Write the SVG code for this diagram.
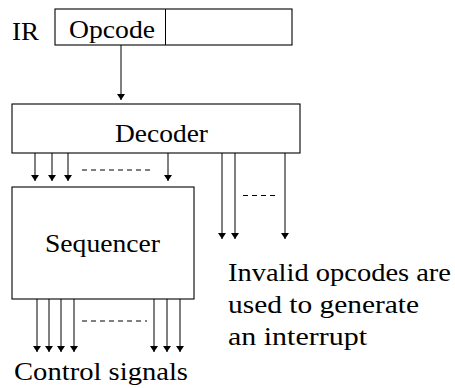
<svg xmlns="http://www.w3.org/2000/svg" width="455" height="388" viewBox="0 0 455 388">
  <style>
    .box { fill: #fff; stroke: #000; stroke-width: 1.1; }
    .wire { stroke: #000; stroke-width: 1; fill: none; }
    .dots { stroke: #000; stroke-width: 1; stroke-dasharray: 5 4; fill: none; }
    .lbl { font-family: "Liberation Serif", "DejaVu Serif", serif; font-size: 26px; fill: #000; }
  </style>
  <defs>
    <marker id="arrow" viewBox="0 0 6 8" refX="6" refY="4" markerWidth="6" markerHeight="8" markerUnits="userSpaceOnUse" orient="auto">
      <path d="M0,0 L6,4 L0,8 Z" fill="#000"/>
    </marker>
  </defs>

  <!-- instruction register -->
  <g id="ir">
    <text class="lbl" x="12" y="40" textLength="27" lengthAdjust="spacingAndGlyphs">IR</text>
    <rect class="box" x="55" y="9" width="237" height="36"/>
    <line class="wire" x1="165.5" y1="9" x2="165.5" y2="45"/>
    <text class="lbl" x="69" y="38" textLength="86" lengthAdjust="spacingAndGlyphs">Opcode</text>
  </g>

  <!-- decoder -->
  <g id="decoder">
    <rect class="box" x="12" y="104" width="288" height="49"/>
    <text class="lbl" x="115" y="142" textLength="93" lengthAdjust="spacingAndGlyphs">Decoder</text>
  </g>

  <!-- sequencer -->
  <g id="sequencer">
    <rect class="box" x="12" y="187" width="182" height="112"/>
    <text class="lbl" x="45" y="252" textLength="115" lengthAdjust="spacingAndGlyphs">Sequencer</text>
  </g>

  <!-- labels -->
  <g id="control-label">
    <text class="lbl" x="14" y="380" textLength="174" lengthAdjust="spacingAndGlyphs">Control signals</text>
  </g>
  <g id="interrupt-note">
    <text class="lbl" x="228" y="281" textLength="223" lengthAdjust="spacingAndGlyphs">Invalid opcodes are</text>
    <text class="lbl" x="228" y="313" textLength="191" lengthAdjust="spacingAndGlyphs">used to generate</text>
    <text class="lbl" x="228" y="345" textLength="139" lengthAdjust="spacingAndGlyphs">an interrupt</text>
  </g>

  <!-- connectors -->
  <g id="connectors">
    <line class="wire" x1="121" y1="45" x2="121" y2="100" marker-end="url(#arrow)"/>

    <line class="wire" x1="35" y1="153" x2="35" y2="181" marker-end="url(#arrow)"/>
    <line class="wire" x1="52" y1="153" x2="52" y2="181" marker-end="url(#arrow)"/>
    <line class="wire" x1="68" y1="153" x2="68" y2="181" marker-end="url(#arrow)"/>
    <line class="wire" x1="168" y1="153" x2="168" y2="181" marker-end="url(#arrow)"/>
    <line class="dots" x1="82" y1="170" x2="152" y2="170"/>

    <line class="wire" x1="222" y1="153" x2="222" y2="239" marker-end="url(#arrow)"/>
    <line class="wire" x1="235" y1="153" x2="235" y2="239" marker-end="url(#arrow)"/>
    <line class="wire" x1="285" y1="153" x2="285" y2="239" marker-end="url(#arrow)"/>
    <line class="dots" x1="243" y1="195.5" x2="277" y2="195.5"/>

    <line class="wire" x1="37" y1="299" x2="37" y2="352" marker-end="url(#arrow)"/>
    <line class="wire" x1="49" y1="299" x2="49" y2="352" marker-end="url(#arrow)"/>
    <line class="wire" x1="61" y1="299" x2="61" y2="352" marker-end="url(#arrow)"/>
    <line class="wire" x1="74" y1="299" x2="74" y2="352" marker-end="url(#arrow)"/>
    <line class="wire" x1="154" y1="299" x2="154" y2="352" marker-end="url(#arrow)"/>
    <line class="wire" x1="167" y1="299" x2="167" y2="352" marker-end="url(#arrow)"/>
    <line class="wire" x1="180" y1="299" x2="180" y2="352" marker-end="url(#arrow)"/>
    <line class="dots" x1="82" y1="321" x2="147" y2="321"/>
  </g>
</svg>
